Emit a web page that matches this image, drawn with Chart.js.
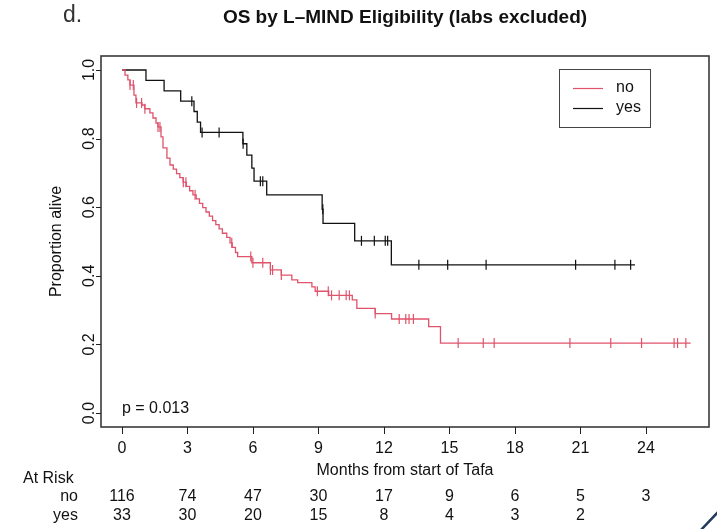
<!DOCTYPE html>
<html><head><meta charset="utf-8">
<script src="https://cdn.jsdelivr.net/npm/chart.js@4/dist/chart.umd.min.js"></script>
<style>html,body{margin:0;padding:0;background:#fff}#wrap{width:717px;height:529px;position:relative}</style>
</head><body><div id="wrap"><canvas id="c" width="717" height="529"></canvas></div>
<script>
// ---- data ----
const titleText = "OS by L\u2013MIND Eligibility (labs excluded)";
const seriesNames = ["no", "yes"];
const xTicks = [0, 3, 6, 9, 12, 15, 18, 21, 24];
const yTicks = [0.0, 0.2, 0.4, 0.6, 0.8, 1.0];
const yTickLabels = ["0.0", "0.2", "0.4", "0.6", "0.8", "1.0"];

// Kaplan-Meier step points (time in months, proportion alive after event)
const noTimes = [0, 0.14, 0.27, 0.37, 0.55, 0.64, 0.92, 1.05, 1.28, 1.42, 1.56, 1.65, 1.79, 1.88, 2.06, 2.2,
  2.35, 2.5, 2.65, 2.8, 2.95, 3.1, 3.25, 3.4, 3.55, 3.7, 3.85, 4.0, 4.15, 4.3, 4.45, 4.6, 4.8, 4.95, 5.05, 5.2, 5.3,
  5.95, 6.8, 7.3, 7.78, 8.05, 8.7, 8.85, 9.47, 10.55, 10.76, 11.6, 12.35, 14.05, 14.59, 26.05];
const noSurv = [1.0, 0.985, 0.971, 0.956, 0.927, 0.904, 0.898, 0.887, 0.875, 0.860, 0.845, 0.834, 0.805, 0.773, 0.743, 0.723,
  0.711, 0.698, 0.686, 0.673, 0.661, 0.648, 0.636, 0.624, 0.611, 0.599, 0.586, 0.574, 0.561, 0.549, 0.537, 0.524, 0.512, 0.496, 0.483, 0.468, 0.456,
  0.438, 0.417, 0.402, 0.388, 0.380, 0.368, 0.355, 0.343, 0.330, 0.305, 0.290, 0.274, 0.252, 0.204, 0.204];
const noCensor = [0.37, 0.52, 0.67, 0.9, 1.05, 1.65, 1.74, 2.81, 2.93, 3.35, 5.03, 5.9, 6.0, 6.45, 6.8, 6.9, 7.3,
  8.95, 9.45, 9.6, 9.95, 10.27, 10.42, 11.6, 12.7, 13.0, 13.15, 13.35, 15.4, 16.55, 17.05, 20.52, 22.39, 23.8, 25.29, 25.45, 25.83];

const yesTimes = [0, 1.1, 1.93, 2.69, 3.3, 3.45, 3.6, 5.54, 5.72, 5.95, 6.05, 6.63, 9.17, 9.21, 10.66, 12.34, 23.5];
const yesSurv = [1.0, 0.970, 0.939, 0.909, 0.879, 0.848, 0.818, 0.785, 0.752, 0.714, 0.676, 0.636, 0.594, 0.553, 0.502, 0.432, 0.432];
const yesCensor = [3.2, 3.67, 4.45, 5.55, 6.34, 6.45, 9.2, 10.97, 11.56, 12.06, 12.17, 13.6, 14.92, 16.68, 20.78, 22.58, 23.3];

const atRiskNo = [116, 74, 47, 30, 17, 9, 6, 5, 3];
const atRiskYes = [33, 30, 20, 15, 8, 4, 3, 2];
const pValueText = "p = 0.013";

// ---- build chart data ----
function stepPoints(times, surv) { return times.map((t, i) => ({x: t, y: surv[i]})); }
function survAt(times, surv, t) { let s = surv[0]; for (let i = 0; i < times.length; i++) { if (times[i] <= t) s = surv[i]; } return s; }
function censorPoints(ct, times, surv) { return ct.map(t => ({x: t, y: survAt(times, surv, t)})); }

const RED = '#DF536B', BLACK = '#111';
const FONT = '"Liberation Sans", Arial, Helvetica, sans-serif';

const rPlugin = {
  id: 'rstyle',
  afterDraw(chart) {
    const ctx = chart.ctx;
    const {left, right, top, bottom} = chart.chartArea;
    const xs = chart.scales.x, ys = chart.scales.y;
    ctx.save();
    // plot box
    ctx.strokeStyle = '#3a3a3a'; ctx.lineWidth = 1.6;
    ctx.strokeRect(left, top, right - left, bottom - top);
    // ticks
    ctx.strokeStyle = '#222'; ctx.lineWidth = 1;
    ctx.beginPath();
    xTicks.forEach(v => { const px = Math.round(xs.getPixelForValue(v)) + 0.5; ctx.moveTo(px, bottom); ctx.lineTo(px, bottom + 7); });
    yTicks.forEach(v => { const py = Math.round(ys.getPixelForValue(v)) + 0.5; ctx.moveTo(left, py); ctx.lineTo(left - 5, py); });
    ctx.stroke();
    ctx.fillStyle = '#111';
    ctx.font = '16px ' + FONT; ctx.textAlign = 'center'; ctx.textBaseline = 'middle';
    xTicks.forEach(v => ctx.fillText(String(v), xs.getPixelForValue(v), 449));
    // y tick labels rotated (R las = 0)
    yTicks.forEach((v, i) => {
      ctx.save(); ctx.translate(90, ys.getPixelForValue(v)); ctx.rotate(-Math.PI / 2);
      ctx.fillText(yTickLabels[i], 0, 0); ctx.restore();
    });
    // axis titles
    ctx.font = '16px ' + FONT;
    ctx.fillText('Months from start of Tafa', (left + right) / 2, 471);
    ctx.save(); ctx.translate(57, (top + bottom) / 2); ctx.rotate(-Math.PI / 2);
    ctx.fillText('Proportion alive', 0, 0); ctx.restore();
    // title
    ctx.font = 'bold 19px ' + FONT;
    ctx.fillText(titleText, (left + right) / 2, 18);
    ctx.font = '23px ' + FONT; ctx.fillStyle = '#333'; ctx.textAlign = 'left';
    ctx.fillText('d.', 63, 16);
    ctx.fillStyle = '#111';
    // p value
    ctx.font = '16px ' + FONT; ctx.textAlign = 'left';
    ctx.fillText(pValueText, xs.getPixelForValue(0), 409);
    // at risk table
    ctx.font = '16px ' + FONT;
    ctx.fillText('At Risk', 23, 479);
    ctx.textAlign = 'right';
    ctx.fillText(seriesNames[0], 78, 497);
    ctx.fillText(seriesNames[1], 78, 516);
    ctx.textAlign = 'center';
    atRiskNo.forEach((n, i) => ctx.fillText(String(n), xs.getPixelForValue(xTicks[i]), 497));
    atRiskYes.forEach((n, i) => ctx.fillText(String(n), xs.getPixelForValue(xTicks[i]), 516));
    // legend
    ctx.strokeStyle = '#444'; ctx.lineWidth = 1;
    ctx.strokeRect(559.5, 69.5, 91, 58);
    ctx.lineWidth = 1.2;
    ctx.strokeStyle = RED; ctx.beginPath(); ctx.moveTo(573, 88.5); ctx.lineTo(603, 88.5); ctx.stroke();
    ctx.strokeStyle = BLACK; ctx.beginPath(); ctx.moveTo(573, 108.5); ctx.lineTo(603, 108.5); ctx.stroke();
    ctx.font = '16px ' + FONT; ctx.textAlign = 'left'; ctx.fillStyle = '#111';
    ctx.fillText(seriesNames[0], 616, 88);
    ctx.fillText(seriesNames[1], 616, 108);
    // corner decoration
    ctx.strokeStyle = '#23395d'; ctx.lineWidth = 2.5;
    ctx.beginPath(); ctx.moveTo(700, 531); ctx.lineTo(719, 511); ctx.stroke();
    ctx.restore();
  }
};

new Chart(document.getElementById('c'), {
  type: 'line',
  data: {
    datasets: [
      {label: seriesNames[0], data: stepPoints(noTimes, noSurv), borderColor: RED, borderWidth: 1.3, stepped: true, pointRadius: 0, fill: false},
      {label: seriesNames[1], data: stepPoints(yesTimes, yesSurv), borderColor: BLACK, borderWidth: 1.3, stepped: true, pointRadius: 0, fill: false},
      {label: seriesNames[0] + ' censored', data: censorPoints(noCensor, noTimes, noSurv), showLine: false, pointStyle: 'line', rotation: 90, pointRadius: 5, borderColor: RED, backgroundColor: RED, pointBorderWidth: 1.2},
      {label: seriesNames[1] + ' censored', data: censorPoints(yesCensor, yesTimes, yesSurv), showLine: false, pointStyle: 'line', rotation: 90, pointRadius: 5, borderColor: BLACK, backgroundColor: BLACK, pointBorderWidth: 1.2}
    ]
  },
  options: {
    responsive: false, animation: false, devicePixelRatio: 1,
    layout: {padding: {left: 101, right: 8, top: 56, bottom: 102}},
    scales: {
      x: {type: 'linear', min: -0.96, max: 26.89, display: false},
      y: {type: 'linear', min: -0.0408, max: 1.0408, display: false}
    },
    plugins: {legend: {display: false}, tooltip: {enabled: false}, title: {display: false}}
  },
  plugins: [rPlugin]
});
</script>
</body></html>
